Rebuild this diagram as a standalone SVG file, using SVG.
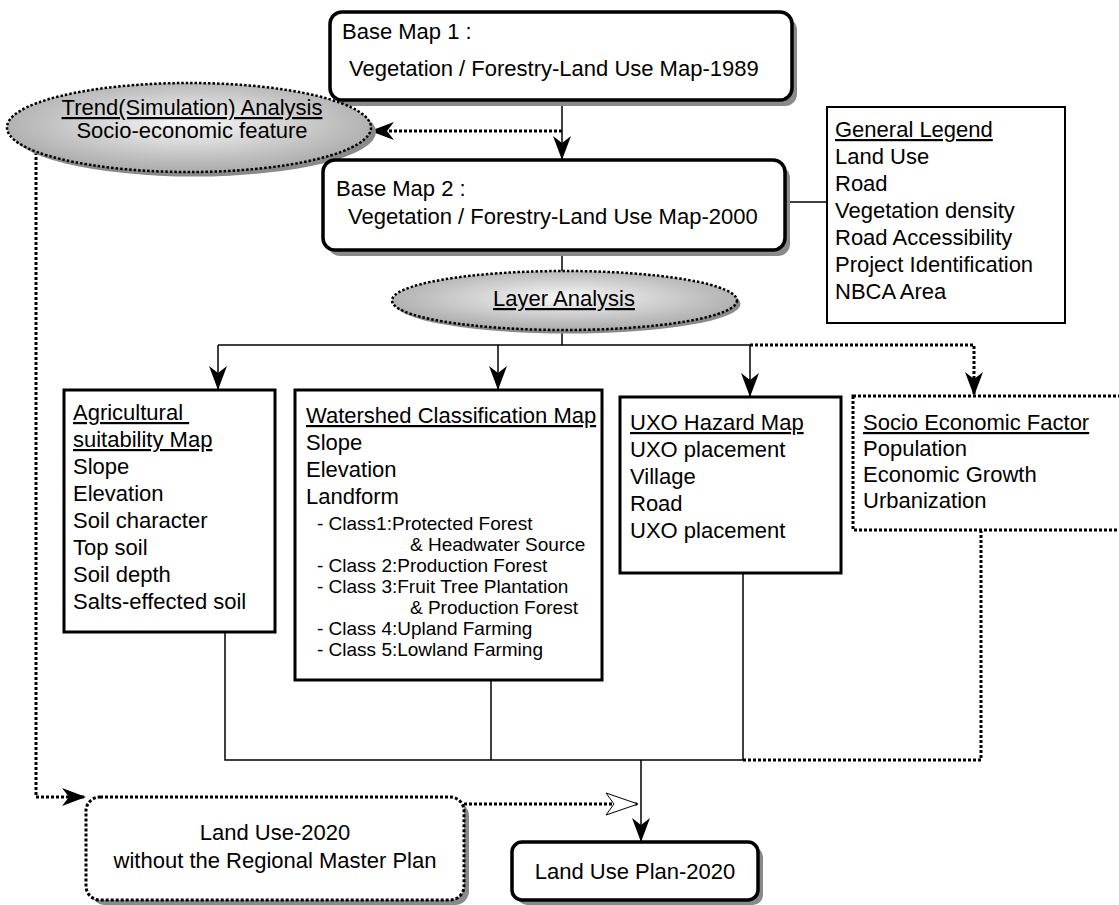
<svg xmlns="http://www.w3.org/2000/svg" width="1119" height="905" viewBox="0 0 1119 905">
<style>
text{font-family:"Liberation Sans",Arial,sans-serif;font-size:22px;fill:#000}
.sm{font-size:19px}
.u{text-decoration:underline}
.mid{text-anchor:middle}
.pre{white-space:pre}
.box{fill:#fff;stroke:#000;stroke-width:3}
.rbox{fill:#fff;stroke:#000;stroke-width:3.5}
.lbox{fill:#fff;stroke:#000;stroke-width:2}
.shadow{fill:#8a8a8a;stroke:none}
.dotbox{fill:#fff;stroke:#000;stroke-width:3;stroke-dasharray:3 2}
.ell{fill:url(#eg);stroke:#000;stroke-width:2.5;stroke-dasharray:2.5 2}
.ln{fill:none;stroke:#000;stroke-width:1.5}
.dl{fill:none;stroke:#000;stroke-width:3;stroke-dasharray:3 2}
</style>
<defs>
<radialGradient id="eg" cx="50%" cy="45%" r="55%">
<stop offset="0" stop-color="#f8f8f8"/>
<stop offset="1" stop-color="#ababab"/>
</radialGradient>
<marker id="ah" markerUnits="userSpaceOnUse" markerWidth="24" markerHeight="18" viewBox="0 0 24 18" refX="24" refY="9" orient="auto">
<path d="M0,0 L24,9 L0,18 L7,9 Z" fill="#000"/>
</marker>
<marker id="hol" markerUnits="userSpaceOnUse" markerWidth="34" markerHeight="24" viewBox="0 0 34 24" refX="33" refY="12" orient="auto">
<path d="M1,1 L33,12 L1,23 L9,12 Z" fill="#fff" stroke="#000" stroke-width="1"/>
</marker>
</defs>

<g id="connectors">
<line class="ln" x1="562" y1="101" x2="562" y2="160" marker-end="url(#ah)"/>
<line class="dl" x1="562" y1="131" x2="370" y2="131" marker-end="url(#ah)"/>
<line class="ln" x1="785" y1="202" x2="827" y2="202"/>
<line class="ln" x1="562" y1="250" x2="562" y2="271"/>
<line class="ln" x1="562" y1="330" x2="562" y2="345"/>
<line class="ln" x1="218" y1="345" x2="750" y2="345"/>
<line class="ln" x1="218" y1="345" x2="218" y2="390" marker-end="url(#ah)"/>
<line class="ln" x1="498" y1="345" x2="498" y2="390" marker-end="url(#ah)"/>
<line class="ln" x1="750" y1="345" x2="750" y2="397" marker-end="url(#ah)"/>
<polyline class="dl" points="750,345 974,345 974,396" marker-end="url(#ah)"/>
<polyline class="ln" points="225,632 225,760 743,760 743,573"/>
<line class="ln" x1="491" y1="680" x2="491" y2="760"/>
<polyline class="dl" points="743,760 981,760 981,531"/>
<line class="ln" x1="641" y1="760" x2="641" y2="842" marker-end="url(#ah)"/>
<polyline class="dl" points="36,152 36,797 86,797" marker-end="url(#ah)"/>
<line class="dl" x1="464" y1="804" x2="638" y2="804" marker-end="url(#hol)"/>
</g>

<g id="base-map-1">
<rect class="shadow" x="335" y="18" width="462" height="88" rx="12"/>
<rect class="rbox" x="330" y="12" width="462" height="88" rx="12"/>
<text x="342" y="39">Base Map 1 :</text>
<text x="349" y="76">Vegetation / Forestry-Land Use Map-1989</text>
</g>

<g id="trend-analysis">
<ellipse class="shadow" cx="194" cy="132" rx="182" ry="44.5"/>
<ellipse class="ell" cx="189" cy="127.5" rx="182" ry="44.5"/>
<text class="mid u" x="192" y="115">Trend(Simulation) Analysis</text>
<text class="mid" x="192" y="138">Socio-economic feature</text>
</g>

<g id="base-map-2">
<rect class="shadow" x="328" y="166" width="462" height="90" rx="12"/>
<rect class="rbox" x="323" y="160" width="462" height="90" rx="12"/>
<text x="336" y="196">Base Map 2 :</text>
<text x="348" y="224">Vegetation / Forestry-Land Use Map-2000</text>
</g>

<g id="general-legend">
<rect class="lbox" x="827" y="107" width="238" height="216"/>
<text class="u" x="835" y="137">General Legend</text>
<text x="835" y="164">Land Use</text>
<text x="835" y="191">Road</text>
<text x="835" y="218">Vegetation density</text>
<text x="835" y="245">Road Accessibility</text>
<text x="835" y="272">Project Identification</text>
<text x="835" y="299">NBCA Area</text>
</g>

<g id="layer-analysis">
<ellipse class="shadow" cx="568" cy="304" rx="172.5" ry="29.5"/>
<ellipse class="ell" cx="564.5" cy="300.5" rx="172.5" ry="29.5"/>
<text class="mid u" x="564" y="306">Layer Analysis</text>
</g>

<g id="agricultural">
<rect class="box" x="64" y="390" width="211" height="242"/>
<text class="u pre" x="73" y="420">Agricultural </text>
<text class="u" x="73" y="447">suitability Map</text>
<text x="73" y="474">Slope</text>
<text x="73" y="501">Elevation</text>
<text x="73" y="528">Soil character</text>
<text x="73" y="555">Top soil</text>
<text x="73" y="582">Soil depth</text>
<text x="73" y="609">Salts-effected soil</text>
</g>

<g id="watershed">
<rect class="box" x="295" y="390" width="307" height="290"/>
<text class="u" x="306" y="423">Watershed Classification Map</text>
<text x="306" y="450">Slope</text>
<text x="306" y="477">Elevation</text>
<text x="306" y="504">Landform</text>
<text class="sm" x="317" y="530">- Class1:Protected Forest</text>
<text class="sm" x="410" y="551">&amp; Headwater Source</text>
<text class="sm" x="317" y="572">- Class 2:Production Forest</text>
<text class="sm" x="317" y="593">- Class 3:Fruit Tree Plantation</text>
<text class="sm" x="410" y="614">&amp; Production Forest</text>
<text class="sm" x="317" y="635">- Class 4:Upland Farming</text>
<text class="sm" x="317" y="656">- Class 5:Lowland Farming</text>
</g>

<g id="uxo">
<rect class="box" x="620" y="397" width="221" height="176"/>
<text class="u" x="630" y="430">UXO Hazard Map</text>
<text x="630" y="457">UXO placement</text>
<text x="630" y="484">Village</text>
<text x="630" y="511">Road</text>
<text x="630" y="538">UXO placement</text>
</g>

<g id="socio-economic">
<rect class="dotbox" x="853" y="396" width="280" height="134"/>
<text class="u" x="863" y="430">Socio Economic Factor</text>
<text x="863" y="456">Population</text>
<text x="863" y="482">Economic Growth</text>
<text x="863" y="508">Urbanization</text>
</g>

<g id="land-use-2020">
<rect class="shadow" x="91" y="802" width="378" height="103" rx="14"/>
<rect class="dotbox" x="86" y="797" width="378" height="103" rx="14"/>
<text class="mid" x="275" y="840">Land Use-2020</text>
<text class="mid" x="275" y="868">without the Regional Master Plan</text>
</g>

<g id="land-use-plan">
<rect class="shadow" x="517" y="847" width="246" height="58" rx="10"/>
<rect class="rbox" x="512" y="842" width="246" height="58" rx="10"/>
<text class="mid" x="635" y="879">Land Use Plan-2020</text>
</g>
</svg>
